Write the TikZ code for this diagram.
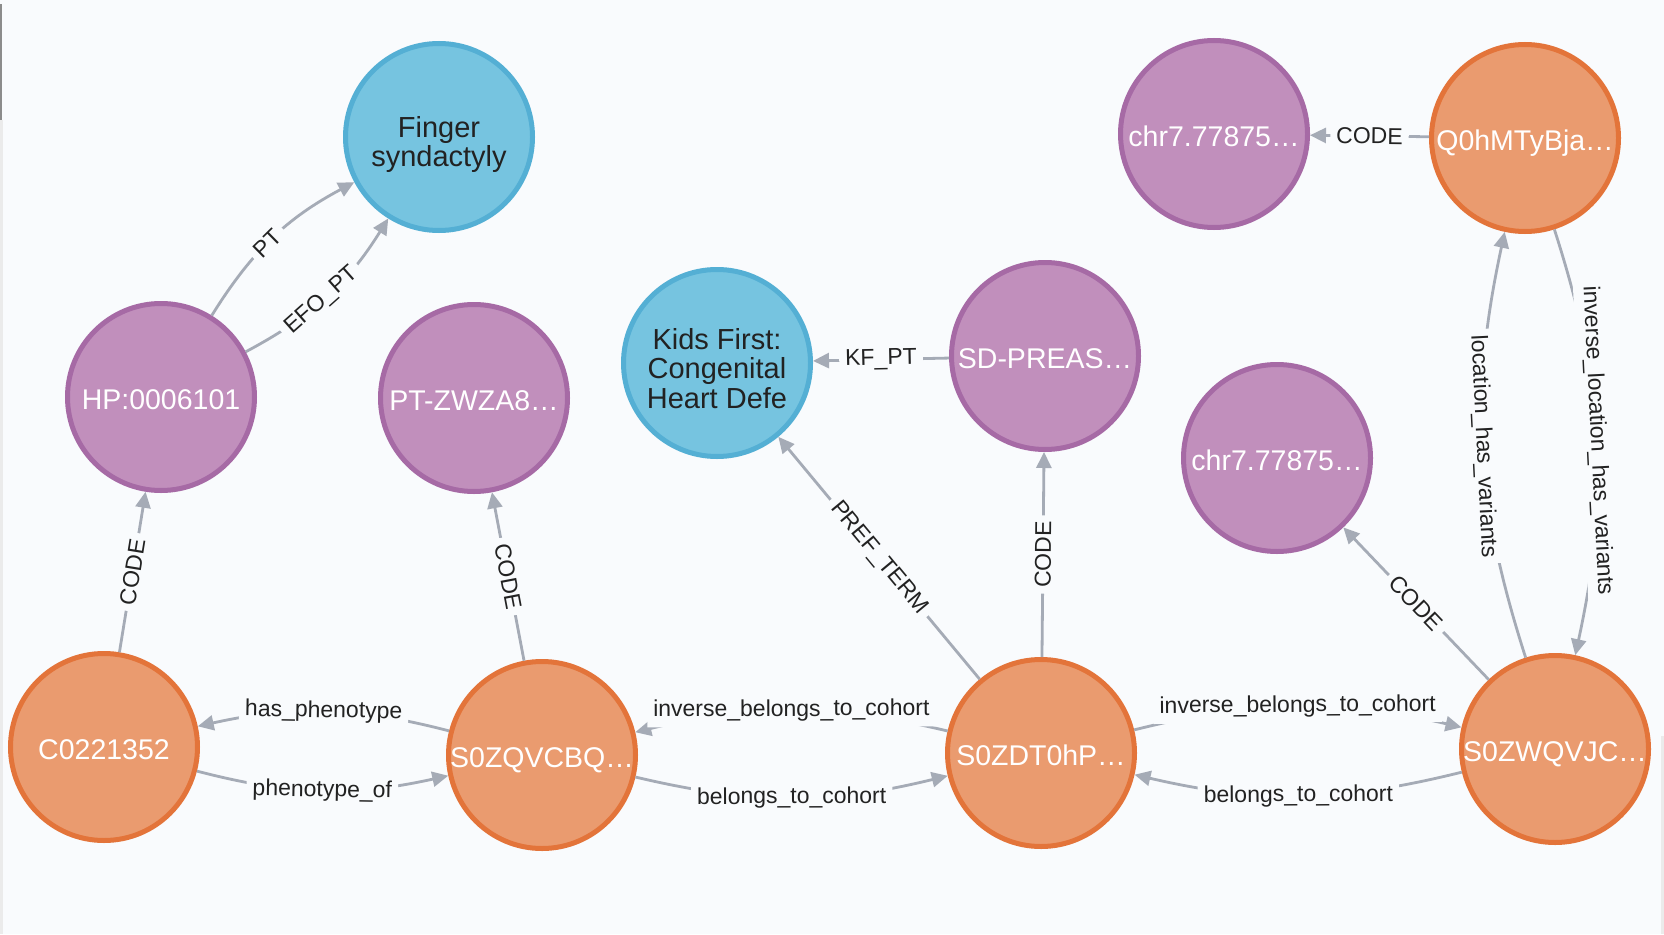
\documentclass[tikz,border=0pt]{standalone}
\usepackage{fontspec}
\setmainfont{Liberation Sans}
\usetikzlibrary{arrows.meta}

\definecolor{bgcol}{HTML}{F9FBFD}
\definecolor{purfill}{HTML}{C18FBC}
\definecolor{purline}{HTML}{A66AA5}
\definecolor{bluefill}{HTML}{76C4E0}
\definecolor{blueline}{HTML}{54AFD4}
\definecolor{orfill}{HTML}{EA9B6F}
\definecolor{orline}{HTML}{E3743A}
\definecolor{edgecol}{HTML}{A5ABB6}
\definecolor{txtcol}{HTML}{222222}

\newcommand{\stacked}[2]{\raisebox{#1}[0pt][0pt]{\begin{tabular}[t]{@{}c@{}}#2\end{tabular}}}

\begin{document}
\begin{tikzpicture}[x=1pt,y=1pt,
  gnode/.style={circle,minimum size=187pt,inner sep=0pt,line width=5pt,
    font=\fontsize{28.5}{29}\selectfont},
  concept/.style={gnode,fill=bluefill,draw=blueline,text=txtcol,
    font=\fontsize{29}{28.5}\selectfont},
  code/.style={gnode,fill=purfill,draw=purline,text=white,
    text height=25pt,text depth=0pt},
  subj/.style={gnode,fill=orfill,draw=orline,text=white,
    text height=25pt,text depth=0pt},
  rel/.style={draw=edgecol,line width=2.8pt,-{Triangle[length=16pt,width=15pt]}},
  lbl/.style={font=\fontsize{23}{24}\selectfont,text=txtcol,fill=bgcol,
    inner sep=6pt,sloped}]
\useasboundingbox (0,0) rectangle (1664,-934);
\fill[bgcol] (0,0) rectangle (1664,-934);
\fill[black!45] (0,-4) rectangle (2,-120);
\fill[black!8] (0,-120) rectangle (3,-934);
\fill[black!8] (1661,-736) rectangle (1664,-934);

\node[concept] (fing) at (439,-137) {\stacked{0pt}{Finger\\syndactyly}};
\node[code] (hp) at (161,-397) {HP:0006101};
\node[code] (ptz) at (474,-398) {PT-ZWZA8…};
\node[concept] (kids) at (717,-363) {\stacked{14pt}{Kids First:\\Congenital\\Heart Defe}};
\node[code] (sdp) at (1045,-356) {SD-PREAS…};
\node[code] (chra) at (1214,-134) {chr7.77875…};
\node[subj] (qoh) at (1525,-138) {Q0hMTyBja…};
\node[code] (chrb) at (1277,-458) {chr7.77875…};
\node[subj] (cui) at (104,-747) {C0221352};
\node[subj] (szq) at (542,-755) {S0ZQVCBQ…};
\node[subj] (szd) at (1041,-753) {S0ZDT0hP…};
\node[subj] (szw) at (1555,-749) {S0ZWQVJC…};

\draw[rel] (hp) to[bend left=15] node[lbl,pos=0.46] {PT} (fing);
\draw[rel] (hp) to[bend right=15] node[lbl,pos=0.46] {EFO\_PT} (fing);
\draw[rel] (cui) -- node[lbl] {CODE} (hp);
\draw[rel] (szq) -- node[lbl] {CODE} (ptz);
\draw[rel] (szq) to[bend right=13.5] node[lbl] {has\_phenotype} (cui);
\draw[rel] (cui) to[bend right=13.5] node[lbl] {phenotype\_of} (szq);
\draw[rel] (szd) to[bend right=13.5] node[lbl] {inverse\_belongs\_to\_cohort} (szq);
\draw[rel] (szq) to[bend right=13.5] node[lbl] {belongs\_to\_cohort} (szd);
\draw[rel] (szd) to[bend left=13.5] node[lbl] {inverse\_belongs\_to\_cohort} (szw);
\draw[rel] (szw) to[bend left=13.5] node[lbl] {belongs\_to\_cohort} (szd);
\draw[rel] (sdp) -- node[lbl] {KF\_PT} (kids);
\draw[rel] (szd) -- node[lbl] {PREF\_TERM} (kids);
\draw[rel] (szd) -- node[lbl] {CODE} (sdp);
\draw[rel] (qoh) -- node[lbl] {CODE} (chra);
\draw[rel] (szw) to[bend left=15] node[lbl] {location\_has\_variants} (qoh);
\draw[rel] (qoh) to[bend left=15] node[lbl] {inverse\_location\_has\_variants} (szw);
\draw[rel] (szw) -- node[lbl] {CODE} (chrb);
\end{tikzpicture}
\end{document}
